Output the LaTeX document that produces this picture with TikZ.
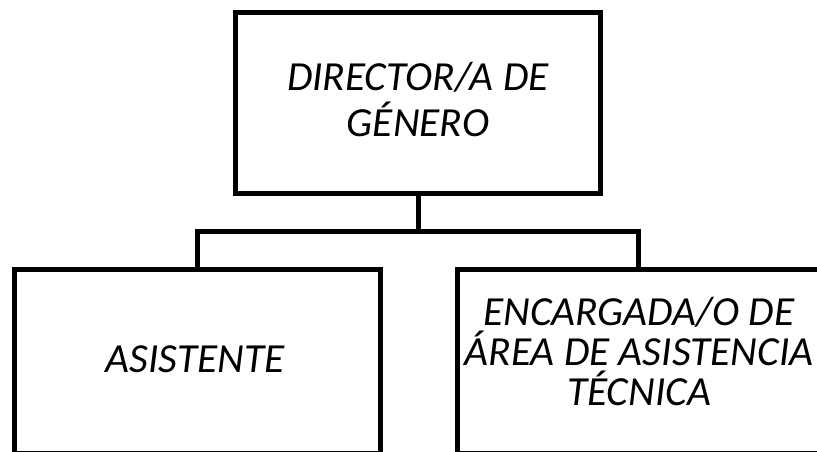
\documentclass[tikz,border=0pt]{standalone}
\usepackage{fontspec}
\setmainfont{Carlito}
\begin{document}
\begin{tikzpicture}[x=1bp,y=-1bp,
  box/.style={draw=black, line width=5bp, rectangle, inner sep=0pt, outer sep=0pt},
  lbl/.style={inner sep=0pt, align=center, font=\itshape\fontsize{41.5}{47}\selectfont},
  conn/.style={draw=black, line width=5bp}]
\useasboundingbox (0,0) rectangle (817,452);
\node[box, minimum width=365bp, minimum height=181.5bp] (top) at (418,103.25) {};
\node[box, minimum width=365.5bp, minimum height=183.5bp] (left) at (197.25,361.75) {};
\node[box, minimum width=362bp, minimum height=183.5bp] (right) at (638.5,361.75) {};
\node[lbl, anchor=base] (ttop) at (418,137) {DIRECTOR/A DE\\GÉNERO};
\node[lbl, anchor=base] (tleft) at (195,373) {ASISTENTE};
\node[lbl, anchor=base, font=\itshape\fontsize{41.5}{40}\selectfont] (tright) at (639,405) {ENCARGADA/O DE\\ÁREA DE ASISTENCIA\\TÉCNICA};
\draw[conn] (top.south) -- ++(0,38) coordinate (mid);
\draw[conn] (left.north) |- (mid) -| (right.north);
\end{tikzpicture}
\end{document}
